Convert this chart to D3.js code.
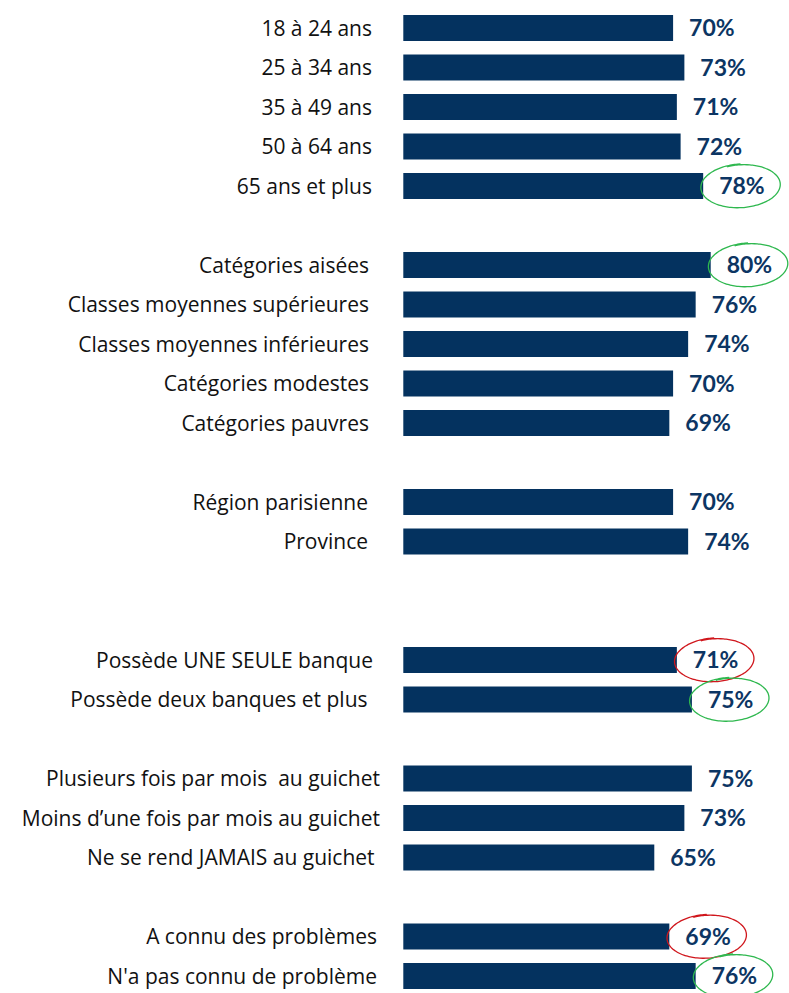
<!DOCTYPE html>
<html lang="fr">
<head>
<meta charset="utf-8">
<script src="https://cdn.jsdelivr.net/npm/d3@7/dist/d3.min.js"></script>
<style>
  html, body { margin: 0; padding: 0; background: #ffffff; }
  svg { display: block; }
  .cat { font-family: "Open Sans", Lato, sans-serif; font-size: 21px; fill: #111111; }
  .val { font-family: Lato, "Open Sans", sans-serif; font-size: 23px; font-weight: 700; fill: #0c3563; }
</style>
</head>
<body>
<svg id="chart" width="789" height="993"></svg>
<script>
// Row labels, grouped by section (blank slots separate the sections)
const categories = [
  "18 à 24 ans", "25 à 34 ans", "35 à 49 ans", "50 à 64 ans", "65 ans et plus",
  "Catégories aisées", "Classes moyennes supérieures", "Classes moyennes inférieures",
  "Catégories modestes", "Catégories pauvres",
  "Région parisienne", "Province",
  "Possède UNE SEULE banque", "Possède deux banques et plus ",
  "Plusieurs fois par mois  au guichet", "Moins d\u2019une fois par mois au guichet",
  "Ne se rend JAMAIS au guichet ",
  "A connu des problèmes", "N'a pas connu de problème"
];

// Share of respondents (%)
const values = [70, 73, 71, 72, 78, 80, 76, 74, 70, 69, 70, 74, 71, 75, 75, 73, 65, 69, 76];

// Section of each row
const sections = [0, 0, 0, 0, 0, 1, 1, 1, 1, 1, 2, 2, 3, 3, 4, 4, 4, 5, 5];

// Row slot on the vertical band scale (gaps between sections are empty slots)
const slots = [0, 1, 2, 3, 4, 6, 7, 8, 9, 10, 12, 13, 16, 17, 19, 20, 21, 23, 24];

// Circled values: green = above average, red = below average
const highlightLabels = ["65 ans et plus", "Catégories aisées", "Possède UNE SEULE banque",
  "Possède deux banques et plus ", "A connu des problèmes", "N'a pas connu de problème"];
const highlightColors = ["#2fb84f", "#2fb84f", "#d0161c", "#2fb84f", "#d0161c", "#2fb84f"];

// ---- layout ----
const svg = d3.select("#chart");
const barColor = "#04325f";
const labelRight = [372, 369, 368, 373, 380, 377]; // right edge of the labels, per section
const valueGap = 16;

const rows = categories.map((c, i) => ({
  label: c, value: values[i], section: sections[i], slot: slots[i]
}));

const y = d3.scaleBand()
  .domain(d3.range(25))
  .range([8.25, 8.25 + 25 * 39.5])
  .paddingInner(0.342)
  .paddingOuter(0.171);

const x = d3.scaleLinear()
  .domain([-1.75, 100])
  .range([403.3, 785.9]);

const g = svg.append("g");

// bars
g.selectAll("rect.bar")
  .data(rows)
  .join("rect")
  .attr("class", "bar")
  .attr("x", x(x.domain()[0]))
  .attr("y", d => y(d.slot))
  .attr("width", d => x(d.value) - x(x.domain()[0]))
  .attr("height", y.bandwidth())
  .attr("fill", barColor);

// category labels
g.selectAll("text.cat")
  .data(rows)
  .join("text")
  .attr("class", "cat")
  .attr("x", d => labelRight[d.section])
  .attr("y", d => y(d.slot) + y.bandwidth() / 2)
  .attr("dy", "0.36em")
  .attr("text-anchor", "end")
  .attr("xml:space", "preserve")
  .style("white-space", "pre")
  .text(d => d.label);

// value labels
const valueText = g.selectAll("text.val")
  .data(rows)
  .join("text")
  .attr("class", "val")
  .attr("x", d => x(d.value) + valueGap)
  .attr("y", d => y(d.slot) + y.bandwidth() / 2)
  .attr("dy", "0.36em")
  .text(d => d.value + "%");

// hand-drawn style ellipses around highlighted values
function looseEllipse(cx, cy, rx, ry, rot, start, overlap) {
  const pts = [];
  const n = 90;
  const total = 2 * Math.PI + overlap;
  for (let k = 0; k <= n; k++) {
    const f = k / n;
    const t = start + f * total;
    const s = 0.985 + 0.04 * f;
    const ex = rx * s * Math.cos(t);
    const ey = ry * s * Math.sin(t);
    pts.push([
      cx + ex * Math.cos(rot) - ey * Math.sin(rot),
      cy + ex * Math.sin(rot) + ey * Math.cos(rot)
    ]);
  }
  return d3.line().curve(d3.curveCatmullRom)(pts);
}

valueText.each(function (d) {
  const idx = highlightLabels.indexOf(d.label);
  if (idx < 0) return;
  const bb = this.getBBox();
  const cx = bb.x + bb.width / 2 - 1;
  const cy = y(d.slot) + y.bandwidth() / 2;
  g.append("path")
    .attr("d", looseEllipse(cx, cy, 39.5, 21.5, -0.06, -1.9, 0.35))
    .attr("fill", "none")
    .attr("stroke", highlightColors[idx])
    .attr("stroke-width", 1.3);
});
</script>
</body>
</html>
